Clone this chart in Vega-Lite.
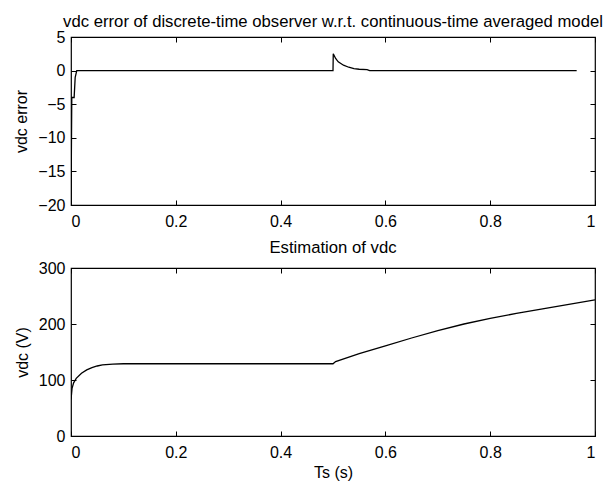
{
  "$schema": "https://vega.github.io/schema/vega-lite/v6.json",
  "background": "white",
  "padding": {"left": 13, "top": 13, "right": 8, "bottom": 0},
  "config": {
    "font": "Liberation Sans",
    "view": {"stroke": "black", "strokeWidth": 1.2},
    "axis": {
      "grid": false, "domain": false, "ticks": true, "tickSize": 5, "tickColor": "black", "tickWidth": 1, "offset": -5,
      "labelFont": "Liberation Sans", "labelFontSize": 16, "labelColor": "black",
      "titleFont": "Liberation Sans", "titleFontSize": 16, "titleFontWeight": "normal", "titleColor": "black"
    },
    "axisBottom": {"labelPadding": 8},
    "axisLeft": {"labelPadding": 6},
    "title": {"font": "Liberation Sans", "fontSize": 16.7, "fontWeight": "normal", "color": "black"},
    "concat": {"spacing": 9}
  },
  "datasets": {
    "err": [
      {"t": 0, "e": -20}, {"t": 0.0015, "e": -4}, {"t": 0.006, "e": -4}, {"t": 0.008, "e": -1},
      {"t": 0.011, "e": 0}, {"t": 0.5, "e": 0}, {"t": 0.5005, "e": 2.5}, {"t": 0.505, "e": 1.8},
      {"t": 0.51, "e": 1.3}, {"t": 0.52, "e": 0.8}, {"t": 0.53, "e": 0.5}, {"t": 0.54, "e": 0.3},
      {"t": 0.55, "e": 0.2}, {"t": 0.565, "e": 0.15}, {"t": 0.57, "e": 0}, {"t": 0.965, "e": 0}
    ],
    "vdc": [
      {"t": 0, "v": 65}, {"t": 0.002, "v": 85}, {"t": 0.005, "v": 95}, {"t": 0.01, "v": 103},
      {"t": 0.02, "v": 112}, {"t": 0.03, "v": 118}, {"t": 0.04, "v": 122}, {"t": 0.05, "v": 125},
      {"t": 0.06, "v": 127}, {"t": 0.08, "v": 128.5}, {"t": 0.1, "v": 129}, {"t": 0.5, "v": 129},
      {"t": 0.505, "v": 133}, {"t": 0.55, "v": 147}, {"t": 0.6, "v": 161}, {"t": 0.65, "v": 175},
      {"t": 0.7, "v": 188}, {"t": 0.75, "v": 200}, {"t": 0.8, "v": 210}, {"t": 0.85, "v": 219},
      {"t": 0.9, "v": 227}, {"t": 0.95, "v": 235}, {"t": 1.0, "v": 243}
    ]
  },
  "vconcat": [
    {
      "title": {"text": "vdc error of discrete-time observer w.r.t. continuous-time averaged model", "offset": -2},
      "width": 524, "height": 168,
      "data": {"name": "err"},
      "layer": [
        {
          "mark": {"type": "line", "color": "black", "strokeWidth": 1.3, "clip": true},
          "encoding": {
            "x": {"field": "t", "type": "quantitative", "scale": {"domain": [0, 1], "nice": false},
                  "axis": {"orient": "bottom", "title": null, "values": [0, 0.2, 0.4, 0.6, 0.8, 1], "format": "~g"}},
            "y": {"field": "e", "type": "quantitative", "scale": {"domain": [-20, 5], "nice": false},
                  "axis": {"orient": "left", "title": "vdc error", "values": [-20, -15, -10, -5, 0, 5], "titlePadding": 8}}
          }
        },
        {
          "mark": {"type": "line", "opacity": 0},
          "encoding": {
            "x": {"field": "t", "type": "quantitative",
                  "axis": {"orient": "top", "title": null, "labels": false, "values": [0, 0.2, 0.4, 0.6, 0.8, 1]}},
            "y": {"field": "e", "type": "quantitative",
                  "axis": {"orient": "right", "title": null, "labels": false, "values": [-20, -15, -10, -5, 0, 5]}}
          }
        }
      ],
      "resolve": {"axis": {"x": "independent", "y": "independent"}}
    },
    {
      "title": {"text": "Estimation of vdc", "offset": 3},
      "width": 524, "height": 168,
      "data": {"name": "vdc"},
      "layer": [
        {
          "mark": {"type": "line", "color": "black", "strokeWidth": 1.3, "clip": true},
          "encoding": {
            "x": {"field": "t", "type": "quantitative", "scale": {"domain": [0, 1], "nice": false},
                  "axis": {"orient": "bottom", "title": "Ts (s)", "values": [0, 0.2, 0.4, 0.6, 0.8, 1], "format": "~g", "titlePadding": 4}},
            "y": {"field": "v", "type": "quantitative", "scale": {"domain": [0, 300], "nice": false},
                  "axis": {"orient": "left", "title": "vdc (V)", "values": [0, 100, 200, 300], "titlePadding": 8}}
          }
        },
        {
          "mark": {"type": "line", "opacity": 0},
          "encoding": {
            "x": {"field": "t", "type": "quantitative",
                  "axis": {"orient": "top", "title": null, "labels": false, "values": [0, 0.2, 0.4, 0.6, 0.8, 1]}},
            "y": {"field": "v", "type": "quantitative",
                  "axis": {"orient": "right", "title": null, "labels": false, "values": [0, 100, 200, 300]}}
          }
        }
      ],
      "resolve": {"axis": {"x": "independent", "y": "independent"}}
    }
  ]
}
